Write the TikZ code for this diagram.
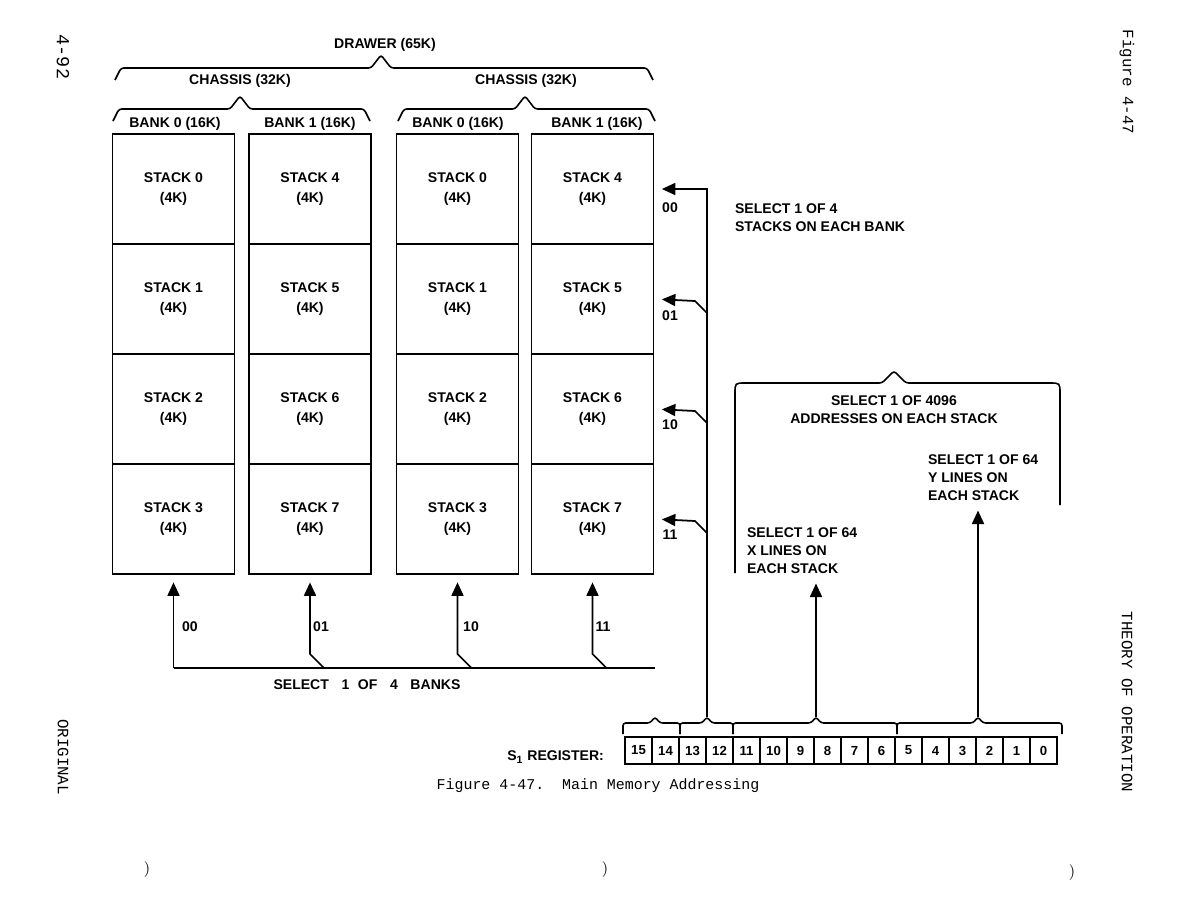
\documentclass[tikz,border=0pt]{standalone}
\usepackage{fontspec}
\setsansfont{Liberation Sans}
\setmonofont{Liberation Mono}
\usetikzlibrary{arrows.meta,calc}

\begin{document}
\begin{tikzpicture}[x=0.02cm,y=-0.02cm,
    line/.style={line width=1pt},
    sel/.style={line width=1pt,-{Triangle[length=0.27cm,width=0.24cm]},shorten >=0.15cm},
    brace/.style={line width=0.9pt,rounded corners=1.5pt},
    stackbox/.style={draw,line width=1pt,minimum width=2.44cm,minimum height=2.2cm,align=center,inner sep=0pt,
        font=\sffamily\bfseries\fontsize{8}{11.4}\selectfont},
    lbl/.style={font=\sffamily\bfseries\fontsize{8}{10.2}\selectfont,inner sep=1pt},
    bitbox/.style={draw,line width=0.9pt,minimum width=0.54cm,minimum height=0.54cm,inner sep=0pt,
        font=\sffamily\bfseries\fontsize{7.5}{9}\selectfont},
    side/.style={font=\ttfamily\fontsize{9}{10}\selectfont,rotate=-90}
]
    \useasboundingbox (0,0) rectangle (1191,923);%page size

    % stacks, four banks
    \foreach \cx [count=\c] in {173.5,310,457.5,592.5}{
        \foreach \r in {1,...,4}{
            \pgfmathtruncatemacro\n{mod(\c-1,2)*4+\r-1}
            \node[stackbox] (s-\c-\r) at (\cx,{79+110*\r}) {STACK \n\\(4K)};
        }
    }

    % braces over the banks
    \foreach \a/\m/\b/\y in {115/381/653/68,113/240/370/109,398/525/655/109}
        \draw[brace] (\a,\y+12) -- (\a+6,\y) -- (\m-10,\y) -- (\m,\y-13) -- (\m+10,\y) -- (\b-6,\y) -- (\b,\y+12);
    \node[lbl] (drawer) at (385,45) {DRAWER (65K)};
    \node[lbl] (chassisL) at (240,81) {CHASSIS (32K)};
    \node[lbl] (chassisR) at (526,81) {CHASSIS (32K)};
    \foreach \x/\b [count=\i] in {175/0,310/1,458/0,597/1}
        \node[lbl] (bank\i) at (\x,124) {BANK \b\ (16K)};

    % bank select
    \coordinate (busL) at (173.5,668);
    \coordinate (busR) at (655,668);
    \draw[line] (busL) -- (busR);
    \draw[sel] (busL) -- (s-1-4.south);
    \foreach \c in {2,3,4}
        \draw[sel] ($(s-\c-4.south |- busL)+(14,0)$) -- ++(-14,-14) -- (s-\c-4.south);
    \foreach \x/\t in {190/00,321/01,471/10,603/11}
        \node[lbl] at (\x,627) {\t};
    \node[lbl] (banksel) at (367,685) {SELECT\hspace{0.9em}1\hspace{0.6em}OF\hspace{0.9em}4\hspace{0.9em}BANKS};

    % register
    \foreach \b [count=\i from 0] in {15,14,...,0}
        \node[bitbox] (bit\b) at (638.5+27*\i,750.5) {\b};
    \foreach \a/\m/\b in {623/655/680,680/707/733,733/816/897,897/978/1062}
        \draw[brace] (\a,734) -- (\a,723) -- (\m-5,723) -- (\m,717) -- (\m+5,723) -- (\b,723) -- (\b,734);
    \coordinate (p2) at (707,717);
    \coordinate (p3) at (816,717);
    \coordinate (p4) at (978,717);
    \node[lbl,anchor=east] (sreg) at (606,757) {S\textsubscript{1} REGISTER:};

    % stack select
    \draw[sel] (p2) -- (p2 |- s-4-1.east) -- (s-4-1.east);
    \foreach \r in {2,3,4}
        \draw[sel] ($(p2 |- s-4-\r.east)+(0,14)$) -- ++(-12,-12) -- (s-4-\r.east);
    \foreach \y/\t in {208/00,316/01,425/10,535/11}
        \node[lbl] at (670,\y) {\t};
    \node[lbl,anchor=west,align=left] (stksel) at (733,218) {SELECT 1 OF 4\\STACKS ON EACH BANK};

    % address select
    \draw[brace] (735,573) -- (735,396) .. controls (735,383) .. (748,383) -- (882,383) -- (894,371)
        -- (906,383) -- (1047,383) .. controls (1060,383) .. (1060,396) -- (1060,505);
    \node[lbl,align=center] (addrsel) at (894,410) {SELECT 1 OF 4096\\ADDRESSES ON EACH STACK};
    \node[lbl,anchor=west,align=left] (ysel) at (926,478) {SELECT 1 OF 64\\Y LINES ON\\EACH STACK};
    \node[lbl,anchor=west,align=left] (xsel) at (745,551) {SELECT 1 OF 64\\X LINES ON\\EACH STACK};
    \draw[sel] (p3) -- (p3 |- xsel.south);
    \draw[sel] (p4) -- (p4 |- ysel.south);

    % caption and page margins
    \node[font=\ttfamily\fontsize{8.5}{10}\selectfont] (caption) at (598,786) {Figure 4-47.\ \ Main Memory Addressing};
    \node[side,font=\ttfamily\fontsize{10.5}{12}\selectfont] (pagenum) at (63,57) {4-92};
    \node[side] (figref) at (1127,82) {Figure 4-47};
    \node[side] (section) at (1127,702) {THEORY OF OPERATION};
    \node[side] (stamp) at (63,757) {ORIGINAL};
    \foreach \x/\y in {147/870,605/870,1072/873}
        \node[font=\fontsize{9}{10}\selectfont] at (\x,\y) {)};
\end{tikzpicture}
\end{document}
